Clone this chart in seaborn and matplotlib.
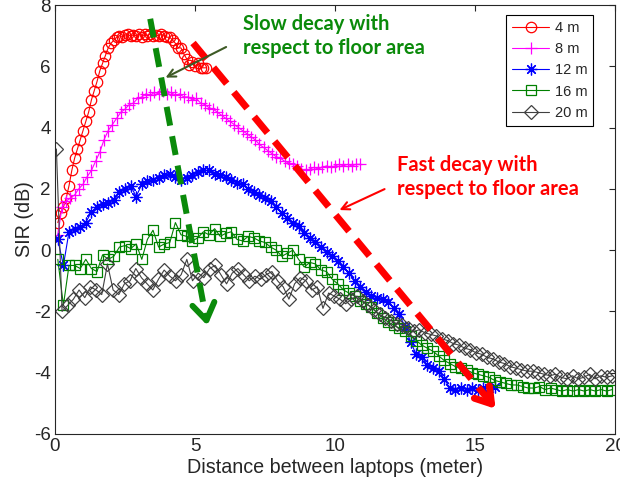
import numpy as np
import pandas as pd
import matplotlib
matplotlib.use("Agg")
import matplotlib.pyplot as plt
import seaborn as sns

# --- data (SIR in dB vs distance in m) ---
labels = ["4 m", "8 m", "12 m", "16 m", "20 m"]

sir_4m = [0.9, 1.2, 1.4, 1.7, 2.1, 2.6, 3.0, 3.3, 3.6, 3.9, 4.2, 4.5, 4.9, 5.2,
          5.5, 5.85, 6.1, 6.35, 6.6, 6.75, 6.85, 6.95, 7.0, 6.95, 7.02, 7.05,
          6.98, 7.03, 7.0, 7.05, 6.97, 7.04, 7.0, 7.06, 6.98, 7.02, 7.0, 7.04,
          6.98, 6.95, 6.95, 6.85, 6.75, 6.6, 6.6, 6.4, 6.25, 6.05, 6.15, 6.0,
          6.1, 5.95, 5.95, 5.95]
sir_8m = [0.5, 1.4, 1.6, 1.7, 1.8, 2.0, 2.15, 2.4, 2.6, 2.9, 3.2, 3.6, 3.9,
          4.1, 4.3, 4.5, 4.6, 4.75, 4.8, 4.95, 5.0, 5.1, 5.05, 5.15, 5.1, 5.2,
          5.1, 5.15, 5.05, 5.1, 5.0, 5.0, 4.9, 4.95, 4.8, 4.75, 4.65, 4.6, 4.5,
          4.4, 4.3, 4.2, 4.1, 4.0, 3.9, 3.8, 3.7, 3.6, 3.45, 3.35, 3.25, 3.15,
          3.05, 3.0, 2.9, 2.85, 2.8, 2.75, 2.65, 2.6, 2.65, 2.7, 2.65, 2.7,
          2.75, 2.7, 2.75, 2.8, 2.75, 2.8, 2.75, 2.8, 2.8]
sir_12m = [0.35, -0.5, 0.6, 0.7, 0.75, 0.9, 1.25, 1.4, 1.5, 1.55, 1.65, 1.9,
           2.0, 2.1, 1.75, 2.15, 2.25, 2.3, 2.35, 2.45, 2.5, 2.4, 2.3, 2.35,
           2.45, 2.55, 2.6, 2.6, 2.5, 2.45, 2.4, 2.3, 2.2, 2.15, 2.0, 1.9, 1.8,
           1.7, 1.6, 1.4, 1.2, 1.05, 0.9, 0.8, 0.55, 0.4, 0.25, 0.1, -0.05,
           -0.2, -0.35, -0.55, -0.75, -1.0, -1.2, -1.35, -1.5, -1.55, -1.6,
           -1.7, -1.9, -2.1, -2.5, -3.0, -3.4, -3.5, -3.75, -3.85, -3.95, -4.2,
           -4.5, -4.55, -4.5, -4.55, -4.5, -4.55, -4.5, -4.5, -4.45]
sir_16m = [-0.3, -1.8, -0.5, -0.5, -0.6, -0.3, -0.6, -0.7, -0.15, -0.3, -0.2,
           0.1, 0.15, 0.05, 0.2, -0.3, 0.35, 0.65, 0.1, 0.2, 0.25, 0.9, 0.5,
           0.45, 0.3, 0.4, 0.6, 0.5, 0.7, 0.45, 0.55, 0.6, 0.35, 0.3, 0.45, 0.4,
           0.3, 0.25, 0.1, 0.0, -0.2, -0.1, 0.0, -0.3, -0.55, -0.4, -0.45,
           -0.65, -0.7, -0.95, -1.1, -1.3, -1.4, -1.5, -1.65, -1.75, -1.85,
           -2.05, -2.2, -2.35, -2.45, -2.55, -2.65, -2.8, -2.95, -3.1, -3.2,
           -3.3, -3.45, -3.6, -3.7, -3.8, -3.85, -3.9, -4.0, -4.05, -4.1, -4.15,
           -4.25, -4.3, -4.35, -4.4, -4.4, -4.45, -4.5, -4.5, -4.45, -4.55,
           -4.5, -4.55, -4.6, -4.55, -4.6, -4.55, -4.6, -4.55, -4.6, -4.55,
           -4.6, -4.55]
sir_20m = [3.3, -2.0, -1.8, -1.6, -1.3, -1.55, -1.2, -1.3, -1.45, -0.45, -1.3,
           -1.45, -1.1, -1.0, -0.6, -0.9, -1.1, -1.3, -0.95, -0.65, -0.85, -1.0,
           -0.8, -0.3, -1.0, -0.75, -0.9, -0.6, -0.5, -0.8, -1.1, -0.75, -0.6,
           -0.8, -1.0, -0.85, -0.95, -0.8, -0.7, -1.0, -1.2, -1.6, -1.1, -0.9,
           -1.0, -1.3, -1.2, -1.9, -1.4, -1.5, -1.6, -1.75, -1.6, -1.5, -1.65,
           -1.8, -1.95, -2.1, -2.2, -2.3, -2.4, -2.45, -2.55, -2.65, -2.6, -2.7,
           -2.75, -2.8, -2.9, -2.95, -3.05, -3.1, -3.2, -3.25, -3.35, -3.4,
           -3.5, -3.55, -3.65, -3.7, -3.8, -3.85, -3.9, -3.95, -3.95, -4.0,
           -4.05, -4.1, -4.05, -4.15, -4.2, -4.1, -4.2, -4.15, -4.05, -4.2,
           -4.1, -4.15, -4.1]

# distance range covered by each measurement series (first, last sample)
ranges = [(0.1, 5.4), (0.1, 10.9), (0.1, 15.7), (0.1, 19.9), (0.05, 19.9)]
series = [sir_4m, sir_8m, sir_12m, sir_16m, sir_20m]

colors = ["#ff0000", "#ff00ff", "#0000ff", "#008000", "#404040"]
# MATLAB-like markers: circle, plus, asterisk, square, diamond
markers = ["o", "+", (8, 2, 0), "s", "D"]
msizes = [7.5, 9, 8.5, 6.5, 7]

frames = []
for lab, (x0, x1), vals in zip(labels, ranges, series):
    frames.append(pd.DataFrame({"dist": np.linspace(x0, x1, len(vals)),
                                "sir": vals, "room": lab}))
df = pd.concat(frames, ignore_index=True)

sns.set_theme(style="white")
plt.rcParams["font.family"] = ["Liberation Sans", "DejaVu Sans"]
plt.rcParams["axes.unicode_minus"] = False

fig = plt.figure(figsize=(6.2, 4.92), dpi=100)
ax = fig.add_axes([55 / 620, 1 - 434 / 492, 560 / 620, 429 / 492])

for lab, c, m, ms in zip(labels, colors, markers, msizes):
    sub = df[df["room"] == lab]
    sns.lineplot(data=sub, x="dist", y="sir", ax=ax, color=c, marker=m,
                 markersize=ms, markerfacecolor="none", markeredgecolor=c,
                 markeredgewidth=0.9, linewidth=0.8, label=lab,
                 estimator=None, sort=False)

ax.set_xlim(0, 20)
ax.set_ylim(-6, 8)
ax.set_xticks([0, 5, 10, 15, 20])
ax.set_yticks(range(-6, 9, 2))
ax.set_xlabel("Distance between laptops (meter)", fontsize=14.2,
              color="#262626", labelpad=2)
ax.set_ylabel("SIR (dB)", fontsize=14.2, color="#262626", labelpad=0)
ax.tick_params(direction="in", top=True, right=True, length=4, width=0.8,
               labelsize=13.5, colors="#262626", pad=3)
for sp in ax.spines.values():
    sp.set_color("#262626")
    sp.set_linewidth(0.8)

leg = ax.legend(loc="upper right", bbox_to_anchor=(0.961, 0.977),
                borderaxespad=0, fontsize=10.5, handlelength=2.5,
                handletextpad=0.4, labelspacing=0.5, fancybox=False,
                framealpha=1, edgecolor="black")
leg.get_frame().set_linewidth(0.8)

# --- thick dashed trend arrows ---
green = "#0a8a0a"
ax.plot([3.4, 5.35], [7.55, -2.0], color=green, lw=4.3,
        ls=(0, (3.2, 1.8)), zorder=5, solid_capstyle="butt")
ax.annotate("", xy=(5.46, -2.55), xytext=(5.36, -2.05),
            arrowprops=dict(arrowstyle="->,head_length=0.6,head_width=0.4",
                            color=green, lw=4.3, mutation_scale=20),
            zorder=6)
ax.plot([4.93, 15.55], [6.76, -4.95], color="#ff0000", lw=5,
        ls=(0, (3.0, 1.6)), zorder=5, solid_capstyle="butt")
ax.annotate("", xy=(15.8, -5.25), xytext=(15.45, -4.86),
            arrowprops=dict(arrowstyle="->,head_length=0.55,head_width=0.35",
                            color="#ff0000", lw=5, mutation_scale=20),
            zorder=6)

# --- text labels with thin arrows ---
ax.text(6.71, 7.7, "Slow decay with\nrespect to floor area", color=green,
        fontsize=14.5, fontweight="bold", family=["Lato", "DejaVu Sans"],
        ha="left", va="top", linespacing=1.25, zorder=7)
ax.annotate("", xy=(3.86, 5.59), xytext=(6.2, 6.67),
            arrowprops=dict(arrowstyle="->", color="#3d5a25", lw=1.5,
                            mutation_scale=14), zorder=7)
ax.text(12.2, 3.12, "Fast decay with\nrespect to floor area", color="#ff0000",
        fontsize=14.5, fontweight="bold", family=["Lato", "DejaVu Sans"],
        ha="left", va="top", linespacing=1.25, zorder=7)
ax.annotate("", xy=(10.07, 1.27), xytext=(11.86, 2.03),
            arrowprops=dict(arrowstyle="->", color="#ff0000", lw=1.5,
                            mutation_scale=14), zorder=7)

fig.savefig("out.png", dpi=100)
